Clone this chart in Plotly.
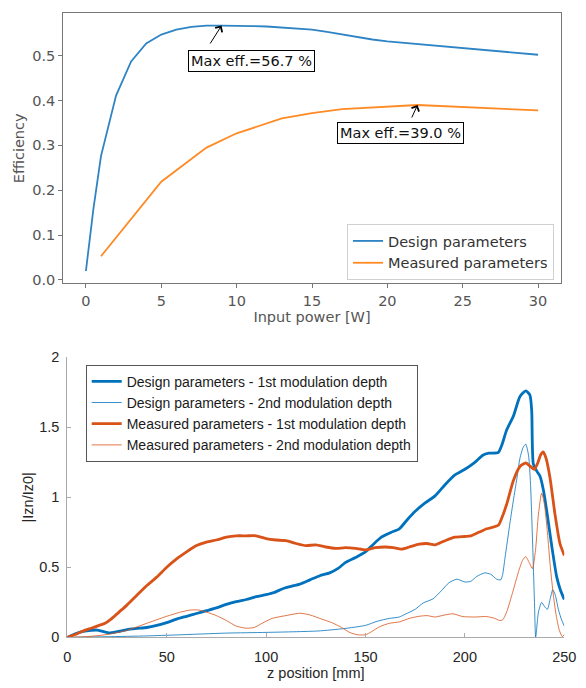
import plotly.graph_objects as go

# ---------------- Top chart data (efficiency vs input power) ----------------
design_power = [0, 0.5, 1, 2, 3, 4, 5, 6, 7, 8, 9, 10, 11, 12, 13, 14, 15, 16, 17, 18, 19, 20,
                21, 22, 23, 24, 25, 26, 27, 28, 29, 30]
design_eff = [0.02, 0.159, 0.276, 0.411, 0.487, 0.527, 0.547, 0.558, 0.564, 0.567, 0.567, 0.567,
              0.566, 0.565, 0.563, 0.561, 0.558, 0.553, 0.547, 0.541, 0.536, 0.532,
              0.529, 0.526, 0.523, 0.520, 0.517, 0.514, 0.511, 0.508, 0.505, 0.502]
measured_power = [1, 3, 5, 8, 10, 13, 15, 17, 20, 22, 30]
measured_eff = [0.053, 0.136, 0.219, 0.295, 0.327, 0.360, 0.372, 0.381, 0.387, 0.390, 0.378]

# ---------------- Bottom chart data (|Izn/Iz0| vs z position) ----------------
d1_z = [0, 4, 8, 12, 15, 18, 21, 25, 30, 35, 40, 45, 50, 55, 60, 65, 70, 75, 80, 85, 90, 95, 100,
        104, 109, 113, 117, 122, 127, 132, 136, 140, 145, 150, 154, 158, 163, 167, 171, 175, 180,
        185, 190, 195, 200, 205, 209, 212, 216.8, 218.5, 221, 224.4, 227.7, 230.6, 232.7, 233.6,
        234.4, 236, 237.8, 239.5, 241.1, 243.7, 246.2, 248, 250]
d1_val = [0, 0.025, 0.042, 0.05, 0.052, 0.042, 0.032, 0.04, 0.055, 0.063, 0.07, 0.085, 0.105, 0.13,
          0.15, 0.17, 0.19, 0.21, 0.235, 0.255, 0.27, 0.29, 0.305, 0.32, 0.35, 0.365, 0.38, 0.41,
          0.44, 0.46, 0.49, 0.535, 0.57, 0.61, 0.665, 0.715, 0.75, 0.775, 0.84, 0.9, 0.96, 1.01,
          1.09, 1.16, 1.2, 1.25, 1.3, 1.315, 1.32, 1.37, 1.48, 1.58, 1.72, 1.76, 1.73, 1.62, 1.24,
          1.19, 1.15, 1.05, 0.91, 0.65, 0.43, 0.34, 0.27]

d2_z = [0, 20, 40, 55, 80, 100, 126, 139, 150, 156, 162, 167, 170, 175, 179, 184, 188, 192, 196,
        200, 203, 206, 210, 213, 216, 218, 219, 220.2, 222.7, 224.4, 226.1, 227.7, 229.4, 230.6,
        232, 233, 234, 235, 235.6, 237, 238.6, 240, 241.5, 243, 244.2, 245.5, 247, 248.5, 250]
d2_val = [0, 0.004, 0.01, 0.017, 0.03, 0.035, 0.045, 0.062, 0.085, 0.115, 0.135, 0.145, 0.165, 0.2,
          0.245, 0.275, 0.33, 0.39, 0.415, 0.395, 0.4, 0.435, 0.46, 0.45, 0.415, 0.41, 0.45, 0.57,
          0.82, 0.98, 1.13, 1.28, 1.36, 1.38, 1.3, 1.1, 0.7, 0.25, 0.0, 0.18, 0.25, 0.22, 0.2,
          0.28, 0.34, 0.3, 0.2, 0.13, 0.08]

m1_z = [0, 4, 8, 12, 16, 19, 22, 26, 30, 35, 40, 45, 50, 55, 60, 65, 70, 75, 80, 85, 90, 95, 100,
        105, 110, 115, 120, 125, 130, 135, 140, 145, 150, 155, 160, 164, 168, 172, 177, 181, 185,
        190, 195, 200, 203, 207, 211, 216.8, 218.5, 221, 224.4, 227.7, 230.6, 233, 234.9, 236.5,
        238, 239.4, 240.8, 242.8, 245.3, 247.8, 250]
m1_val = [0, 0.02, 0.045, 0.065, 0.085, 0.1, 0.13, 0.18, 0.23, 0.3, 0.37, 0.43, 0.5, 0.56, 0.61,
          0.655, 0.68, 0.695, 0.715, 0.725, 0.725, 0.725, 0.705, 0.695, 0.69, 0.67, 0.655, 0.66,
          0.645, 0.635, 0.64, 0.635, 0.625, 0.64, 0.645, 0.64, 0.63, 0.645, 0.665, 0.67, 0.66,
          0.69, 0.715, 0.72, 0.725, 0.75, 0.775, 0.8, 0.85, 0.95, 1.12, 1.22, 1.245, 1.22, 1.2,
          1.24, 1.3, 1.325, 1.28, 1.14, 0.88, 0.67, 0.585]

m2_z = [0, 10, 20, 30, 40, 50, 57, 62, 66, 70, 75, 80, 85, 90, 94, 98, 103, 110, 117, 122, 128,
        133, 138, 142, 146, 150, 153, 157, 162, 167, 172, 177, 181, 185, 190, 194, 199, 205, 211,
        215, 217.5, 219, 221, 224, 227, 229, 230.6, 232.5, 234, 235.5, 237, 238.6, 240, 241.5,
        243, 244.5, 246, 247.5, 249, 250]
m2_val = [0, 0.005, 0.02, 0.05, 0.1, 0.15, 0.18, 0.195, 0.195, 0.18, 0.155, 0.12, 0.08, 0.065,
          0.07, 0.1, 0.135, 0.155, 0.172, 0.16, 0.13, 0.105, 0.07, 0.035, 0.018, 0.018, 0.04,
          0.075, 0.1, 0.11, 0.135, 0.15, 0.155, 0.145, 0.16, 0.168, 0.148, 0.145, 0.148, 0.135,
          0.12, 0.125, 0.18, 0.32, 0.47, 0.55, 0.576, 0.53, 0.49, 0.62, 0.88, 1.03, 0.95, 0.75,
          0.5, 0.3, 0.15, 0.05, 0.005, 0.02]

top_xticks = [0, 5, 10, 15, 20, 25, 30]
top_yticks = [0.0, 0.1, 0.2, 0.3, 0.4, 0.5]
bot_xticks = [0, 50, 100, 150, 200, 250]
bot_yticks = [0, 0.5, 1, 1.5, 2]
bot_yticktext = ["0", "0.5", "1", "1.5", "2"]

# The page body has an 8px default margin, so the figure is sized to fill the
# 586x688 window from that offset; positions below are window pixels.
OFF = 8
W, H = 586 - OFF, 688 - OFF


def px(x):
    return (x - OFF) / W


def py(y):
    return 1 - (y - OFF) / H


TOPFONT = "DejaVu Sans"
BOTFONT = "Liberation Sans, Arial, sans-serif"
MBLUE = "#0072BD"
MORANGE = "#D95319"

fig = go.Figure()

fig.add_trace(go.Scatter(x=design_power, y=design_eff, mode="lines", name="Design parameters",
                         line=dict(color="#2f84c5", width=1.8), xaxis="x", yaxis="y",
                         legend="legend"))
fig.add_trace(go.Scatter(x=measured_power, y=measured_eff, mode="lines", name="Measured parameters",
                         line=dict(color="#ff8a24", width=1.8), xaxis="x", yaxis="y",
                         legend="legend"))

sp = dict(shape="spline", smoothing=0.6)
fig.add_trace(go.Scatter(x=d1_z, y=d1_val, mode="lines",
                         name="Design parameters - 1st modulation depth",
                         line=dict(color=MBLUE, width=2.8, **sp), xaxis="x2", yaxis="y2",
                         legend="legend2"))
fig.add_trace(go.Scatter(x=d2_z, y=d2_val, mode="lines",
                         name="Design parameters - 2nd modulation depth",
                         line=dict(color=MBLUE, width=0.8, **sp), xaxis="x2", yaxis="y2",
                         legend="legend2"))
fig.add_trace(go.Scatter(x=m1_z, y=m1_val, mode="lines",
                         name="Measured parameters - 1st modulation depth",
                         line=dict(color=MORANGE, width=2.8, **sp), xaxis="x2", yaxis="y2",
                         legend="legend2"))
fig.add_trace(go.Scatter(x=m2_z, y=m2_val, mode="lines",
                         name="Measured parameters - 2nd modulation depth",
                         line=dict(color=MORANGE, width=0.8, **sp), xaxis="x2", yaxis="y2",
                         legend="legend2"))

top_axis_common = dict(showline=True, linecolor="#777777", linewidth=1.2, mirror=True,
                       ticks="outside", ticklen=4, tickwidth=1, tickcolor="#777777",
                       showgrid=False, zeroline=False, automargin=False,
                       tickfont=dict(family=TOPFONT, size=14.5, color="#555555"))
bot_axis_common = dict(showline=True, linecolor="#aaaaaa", linewidth=1, mirror=False,
                       ticks="inside", ticklen=4, tickwidth=1, tickcolor="#aaaaaa",
                       showgrid=False, zeroline=False, automargin=False,
                       tickfont=dict(family=BOTFONT, size=14.5, color="#262626"))

fig.update_layout(
    width=W, height=H,
    margin=dict(l=0, r=0, t=0, b=0, autoexpand=False),
    paper_bgcolor="white", plot_bgcolor="white",
    xaxis=dict(domain=[px(63.3), px(560.7)], range=[-1.5, 31.5], tickvals=top_xticks,
               anchor="y",
               title=dict(text="Input power [W]", standoff=4,
                          font=dict(family=TOPFONT, size=14.5, color="#555555")),
               **top_axis_common),
    yaxis=dict(domain=[py(283.3), py(13.3)], range=[-0.0074, 0.5944],
               tickvals=top_yticks, tickformat=".1f", anchor="x",
               title=dict(text="Efficiency", standoff=4,
                          font=dict(family=TOPFONT, size=14.5, color="#555555")),
               **top_axis_common),
    xaxis2=dict(domain=[px(67.3), px(564.3)], range=[0, 250], tickvals=bot_xticks,
                anchor="y2", ticklabelstandoff=6,
                title=dict(text="z position [mm]", standoff=4,
                           font=dict(family=BOTFONT, size=14.5, color="#262626")),
                **bot_axis_common),
    yaxis2=dict(domain=[py(637.3), py(357.3)], range=[0, 2], tickvals=bot_yticks,
                ticktext=bot_yticktext, anchor="x2", ticklabelstandoff=4,
                title=dict(text="|Izn/Iz0|", standoff=2,
                           font=dict(family=BOTFONT, size=14.5, color="#262626")),
                **bot_axis_common),
    legend=dict(x=px(554), xanchor="right", y=py(280), yanchor="bottom",
                bgcolor="white", bordercolor="#d0d0d0", borderwidth=1,
                font=dict(family=TOPFONT, size=14.5, color="#333333")),
    legend2=dict(x=px(85.7), xanchor="left", y=py(364.7), yanchor="top",
                 bgcolor="white", bordercolor="#555555", borderwidth=1,
                 font=dict(family=BOTFONT, size=14, color="#1a1a1a")),
    showlegend=True,
)

box_style = dict(showarrow=False, bordercolor="black", borderwidth=1, borderpad=2,
                 bgcolor="white", font=dict(family=TOPFONT, size=14.5, color="#111111"),
                 xref="x", yref="y")
arrow_style = dict(text="", showarrow=True, arrowhead=4, arrowsize=1.6, arrowwidth=1,
                   arrowcolor="black", xref="x", yref="y", axref="pixel", ayref="pixel")

fig.add_annotation(x=10.96, y=0.489, text="Max eff.=56.7 %", **box_style)
fig.add_annotation(x=9, y=0.567, ax=-12.3, ay=19.4, **arrow_style)
fig.add_annotation(x=20.87, y=0.327, text="Max eff.=39.0 %", **box_style)
fig.add_annotation(x=22, y=0.390, ax=-6.4, ay=14, **arrow_style)

fig.write_html("out.html")
